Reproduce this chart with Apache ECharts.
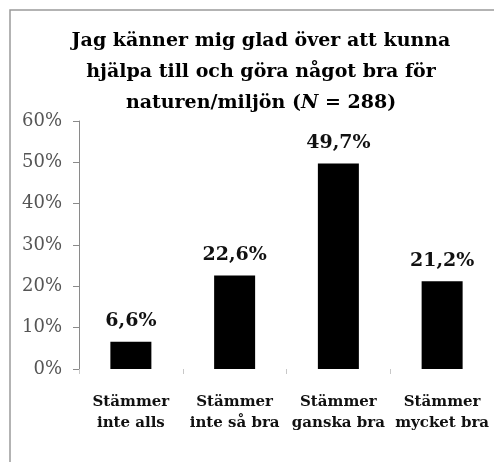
<!DOCTYPE html>
<html>
<head>
<meta charset="utf-8">
<script src="https://cdn.jsdelivr.net/npm/echarts@6/dist/echarts.min.js"></script>
<style>
  html, body { margin: 0; padding: 0; background: #fff; }
  #chart { width: 494px; height: 462px; }
</style>
</head>
<body>
<div id="chart"></div>
<script>
// data
const categories = ["Stämmer\ninte alls", "Stämmer\ninte så bra", "Stämmer\nganska bra", "Stämmer\nmycket bra"];
const values = [6.6, 22.6, 49.7, 21.2];
const yTicks = [0, 10, 20, 30, 40, 50, 60];
const titleText = "Jag känner mig glad över att kunna\nhjälpa till och göra något bra för\nnaturen/miljön ({i|N} = 288)";

const serif = "'DejaVu Serif', 'Liberation Serif', serif";

let chart = echarts.init(document.getElementById("chart"));
let option = {
  animation: false,
  backgroundColor: "#fff",
  graphic: [
    {
      type: "rect",
      shape: { x: 10, y: 10, width: 600, height: 600 },
      style: { fill: "none", stroke: "#9a9a9a", lineWidth: 1.5 },
      silent: true
    }
  ],
  title: {
    text: titleText,
    left: 256,
    textAlign: "center",
    top: 21,
    textStyle: {
      fontFamily: serif,
      fontSize: 19,
      fontWeight: "bold",
      color: "#000",
      lineHeight: 31,
      rich: {
        i: { fontFamily: serif, fontSize: 19, fontWeight: "bold", fontStyle: "italic", color: "#000", lineHeight: 31 }
      }
    }
  },
  grid: {
    left: 79,
    top: 121,
    width: 426,
    height: 248
  },
  xAxis: {
    type: "category",
    data: categories,
    axisLine: { show: false },
    axisTick: {
      show: true,
      interval: 0,
      length: 5,
      lineStyle: { color: "#c8c8c8" }
    },
    axisLabel: {
      interval: 0,
      margin: 23,
      fontFamily: serif,
      fontSize: 15,
      fontWeight: "bold",
      color: "#111",
      lineHeight: 21
    }
  },
  yAxis: {
    type: "value",
    min: 0,
    max: 60,
    interval: 10,
    axisLine: { show: true, lineStyle: { color: "#8a8a8a", width: 1 } },
    axisTick: { show: true, length: 6, lineStyle: { color: "#8a8a8a" } },
    splitLine: { show: false },
    axisLabel: {
      margin: 17,
      fontFamily: serif,
      fontSize: 18,
      color: "#555",
      formatter: function (v) { return yTicks.indexOf(v) >= 0 ? v + "%" : ""; }
    }
  },
  series: [
    {
      type: "bar",
      data: values,
      barWidth: 41,
      itemStyle: { color: "#000" },
      label: {
        show: true,
        position: "top",
        distance: 11,
        fontFamily: serif,
        fontSize: 19,
        fontWeight: "bold",
        color: "#111",
        formatter: function (p) { return String(p.value).replace(".", ",") + "%"; }
      }
    }
  ]
};
chart.setOption(option);
</script>
</body>
</html>
